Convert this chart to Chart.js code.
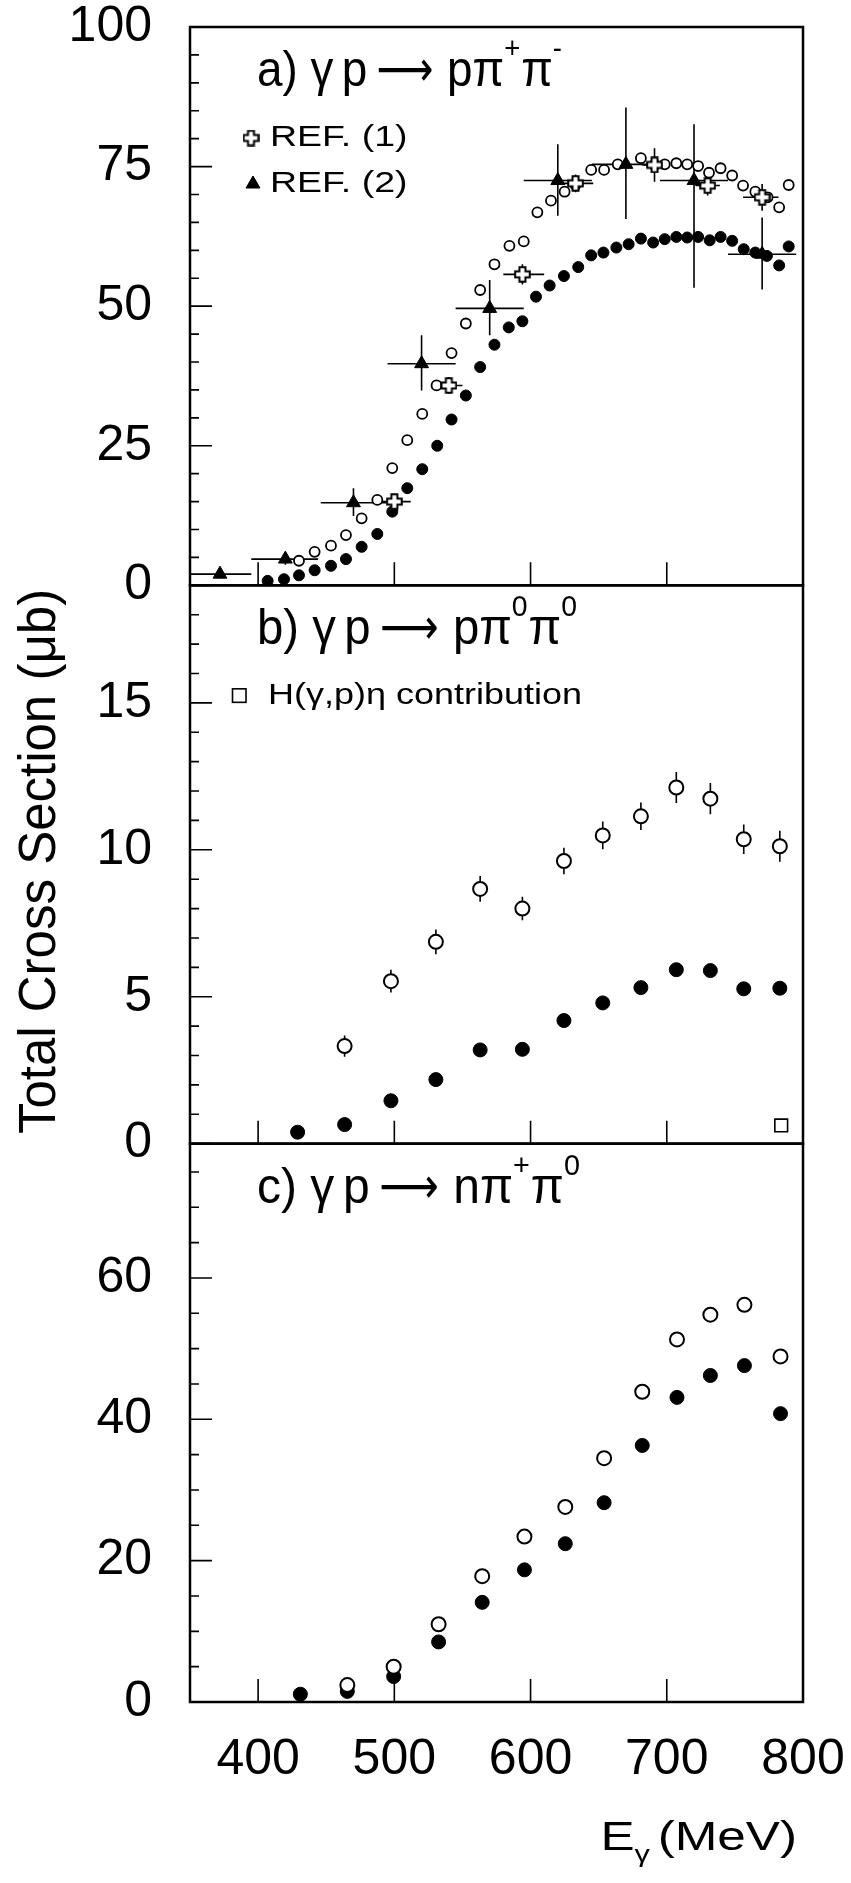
<!DOCTYPE html>
<html lang="en">
<head>
<meta charset="UTF-8">
<title>Total Cross Sections</title>
<script src="https://cdn.jsdelivr.net/npm/chart.js"></script>
<style>
  body { margin: 0; background: #fff; }
  canvas { display: block; }
</style>
</head>
<body>
<canvas id="chart" width="851" height="1883"></canvas>
<script>
// photon energy in MeV, cross section in microbarn

// a) gamma p -> p pi+ pi-
const aFilledE = [407, 419, 430, 441.5, 453.5, 464.5, 476, 487.5, 498.5, 509.5, 520.5, 531.5, 542, 552.5, 563, 573.5, 584, 594, 604, 614, 624.5, 635, 644.5, 653.5, 663, 672, 681, 690, 698.5, 707, 715, 723, 731.5, 739.5, 748, 756.5, 765, 773.5, 782.5, 789.5];
const aFilledSigma = [0.8, 1.1, 1.8, 2.7, 3.5, 4.7, 6.9, 9.2, 13.2, 17.4, 20.8, 25.0, 29.7, 34.0, 39.1, 43.1, 46.2, 47.3, 51.7, 53.7, 55.4, 57.0, 59.1, 59.6, 60.5, 61.1, 62.1, 61.4, 62.0, 62.4, 62.3, 62.4, 61.8, 62.4, 61.7, 60.2, 59.6, 59.0, 57.3, 60.7];
const aOpenE = [430, 441.5, 453.5, 464.5, 476, 487.5, 498.5, 509.5, 520.5, 531, 542, 552.5, 563, 573.5, 584.5, 595, 605, 615, 625, 633, 644.5, 654, 664, 681, 691, 698.5, 707, 715, 723, 731, 739.5, 748, 756, 765, 774, 782.5, 789.5];
const aOpenSigma = [4.4, 6.0, 7.1, 9.0, 12.0, 15.3, 21.0, 26.0, 30.7, 35.8, 41.6, 46.9, 52.9, 57.5, 60.8, 61.6, 66.8, 68.9, 70.5, 71.7, 74.4, 74.4, 75.4, 76.5, 75.3, 75.4, 75.6, 75.4, 75.1, 73.9, 74.7, 73.4, 71.6, 70.5, 69.5, 67.7, 71.7];

// REF. (1)
const ref1E = [500, 540, 594, 633, 691, 730, 770];
const ref1Sigma = [15.0, 35.8, 55.7, 72.0, 75.3, 71.6, 69.5];
const ref1ELo = [488, 529, 580, 622, 682, 721, 756];
const ref1EHi = [512, 550, 610, 646, 700, 739, 782];
const ref1SigmaLo = [14.2, 34.3, 53.9, 70.4, 72.3, 69.8, 67.1];
const ref1SigmaHi = [15.8, 37.3, 57.5, 73.6, 78.3, 73.4, 71.9];

// REF. (2)
const ref2E = [372, 420, 470, 520, 570, 620, 670, 720, 770];
const ref2Sigma = [2.0, 4.7, 14.8, 39.7, 49.6, 72.5, 75.4, 72.5, 59.3];
const ref2ELo = [350, 395, 446, 495, 545, 595, 645, 695, 745];
const ref2EHi = [395, 444, 494, 545, 595, 645, 695, 745, 795];
const ref2SigmaLo = [1.5, 3.7, 12.4, 34.9, 44.8, 66.2, 65.6, 53.3, 53.0];
const ref2SigmaHi = [2.5, 5.7, 17.4, 44.8, 54.7, 79.0, 85.6, 82.6, 65.9];

// b) gamma p -> p pi0 pi0
const bE = [429, 463.5, 497.5, 530.5, 563, 594, 624.5, 653, 681, 707, 732, 756.5, 783];
const bFilledSigma = [0.39, 0.65, 1.46, 2.18, 3.19, 3.21, 4.19, 4.79, 5.31, 5.92, 5.89, 5.27, 5.29];
const bOpenE = [463.5, 497.5, 530.5, 563, 594, 624.5, 653, 681, 707, 732, 756.5, 783];
const bOpenSigma = [3.32, 5.53, 6.87, 8.67, 8.0, 9.62, 10.49, 11.14, 12.12, 11.74, 10.36, 10.12];
const bOpenErr = [0.36, 0.39, 0.42, 0.44, 0.40, 0.45, 0.47, 0.47, 0.53, 0.53, 0.50, 0.53];
const etaE = [784];
const etaSigma = [0.62];

// c) gamma p -> n pi+ pi0
const cE = [431, 465.5, 499.5, 532.5, 564.5, 595.5, 625.5, 654, 682, 707.5, 732, 757, 783.5];
const cFilledSigma = [1.1, 1.5, 3.6, 8.5, 14.1, 18.7, 22.4, 28.2, 36.3, 43.1, 46.2, 47.6, 40.8];
const cOpenE = [465.5, 499.5, 532.5, 564.5, 595.5, 625.5, 654, 682, 707.5, 732, 757, 783.5];
const cOpenSigma = [2.4, 5.0, 11.0, 17.8, 23.4, 27.6, 34.5, 43.9, 51.3, 54.8, 56.2, 48.9];

// axes
const xTicks = [400, 500, 600, 700, 800];
const aTicks = [0, 25, 50, 75, 100];
const bTicks = [0, 5, 10, 15];
const cTicks = [0, 20, 40, 60];

const FONT = '"Liberation Sans", Arial, "DejaVu Sans", sans-serif';

function points(xs, ys) {
  return xs.map((x, i) => ({ x: x, y: ys[i] }));
}

// outlined "plus" marker used for REF. (1)
function outlinedPlus(size, arm) {
  const c = document.createElement('canvas');
  c.width = c.height = size;
  const g = c.getContext('2d');
  const m = size / 2, h = arm / 2, e = size / 2 - 1.2;
  const pts = [[m - h, m - e], [m + h, m - e], [m + h, m - h], [m + e, m - h], [m + e, m + h], [m + h, m + h],
               [m + h, m + e], [m - h, m + e], [m - h, m + h], [m - e, m + h], [m - e, m - h], [m - h, m - h]];
  g.beginPath();
  pts.forEach((p, i) => i ? g.lineTo(p[0], p[1]) : g.moveTo(p[0], p[1]));
  g.closePath();
  g.fillStyle = '#fff';
  g.fill();
  g.lineWidth = 2;
  g.strokeStyle = '#000';
  g.stroke();
  return c;
}
const plusImg = outlinedPlus(17, 6);

function reaction(label, product, sup1, sup2) {
  return [{ t: label + ' γ', gap: 9 }, { t: 'p', gap: 10 }, { t: '⟶', w: 62, gap: 15 },
          { t: product + 'π' }, { t: sup1, sup: true, gap: 1 }, { t: 'π' }, { t: sup2, sup: true }];
}

// titleWidth: horizontal extent of each reaction label in pixels
const panels = [
  { id: 'ya', weight: 3, min: 0, max: 100, ticks: aTicks, minor: 5, title: reaction('a)', 'p', '+', '-'), titleWidth: 305 },
  { id: 'yb', weight: 2, min: 0, max: 19, ticks: bTicks, minor: 1, title: reaction('b)', 'p', '0', '0'), titleWidth: 320 },
  { id: 'yc', weight: 1, min: 0, max: 79, ticks: cTicks, minor: 5, title: reaction('c)', 'n', '+', '0'), titleWidth: 323 }
];

function yScale(p) {
  return {
    type: 'linear',
    position: 'left',
    stack: 'panels',
    stackWeight: 1,
    weight: p.weight,
    min: p.min,
    max: p.max,
    afterBuildTicks: s => { s.ticks = p.ticks.map(v => ({ value: v })); },
    afterFit: s => { s.width = 190; s.paddingTop = 0; s.paddingBottom = 0; },
    grid: { display: false, drawTicks: false },
    border: { display: false },
    ticks: { autoSkip: false, padding: 38, color: '#000', font: { family: FONT, size: 50, lineHeight: 1 } }
  };
}

// text with super/subscripts, optionally stretched horizontally
function layoutParts(ctx, parts, size, draw) {
  let cx = 0;
  parts.forEach(part => {
    const fs = part.sup || part.sub ? Math.round(size * 0.6) : size;
    ctx.font = fs + 'px ' + FONT;
    const dy = part.sup ? -size * 0.56 : (part.sub ? size * 0.3 : 0);
    const m = ctx.measureText(part.t).width;
    const w = part.w || m;
    if (draw) {
      ctx.save();
      ctx.translate(cx, dy);
      ctx.scale(w / m, 1);
      ctx.fillText(part.t, 0, 0);
      ctx.restore();
    }
    cx += w + (part.gap || 0);
  });
  return cx;
}

function drawParts(ctx, x, y, parts, size, stretch) {
  ctx.save();
  ctx.translate(x, y);
  ctx.scale(stretch, 1);
  layoutParts(ctx, parts, size, true);
  ctx.restore();
}

function partsWidth(ctx, parts, size, stretch) {
  ctx.save();
  const w = layoutParts(ctx, parts, size, false) * stretch;
  ctx.restore();
  return w;
}

const panelPlugin = {
  id: 'panelPlugin',
  beforeDatasetsDraw(chart) {
    const ctx = chart.ctx;
    const xs = chart.scales.x;
    ctx.save();
    ctx.strokeStyle = '#000';
    ctx.lineWidth = 1.6;
    chart.data.datasets.forEach(ds => {
      const e = ds.errorBars;
      if (!e) return;
      const ys = chart.scales[ds.yAxisID];
      ctx.beginPath();
      ds.data.forEach((p, j) => {
        const px = xs.getPixelForValue(p.x);
        const py = ys.getPixelForValue(p.y);
        if (e.xLo) {
          ctx.moveTo(xs.getPixelForValue(e.xLo[j]), py);
          ctx.lineTo(xs.getPixelForValue(e.xHi[j]), py);
        }
        if (e.yLo) {
          ctx.moveTo(px, ys.getPixelForValue(e.yLo[j]));
          ctx.lineTo(px, ys.getPixelForValue(e.yHi[j]));
        }
      });
      ctx.stroke();
    });
    ctx.restore();
  },
  afterDatasetsDraw(chart) {
    const ctx = chart.ctx;
    const area = chart.chartArea;
    const xs = chart.scales.x;
    ctx.save();
    ctx.strokeStyle = '#000';
    panels.forEach(p => {
      const ys = chart.scales[p.id];
      ctx.lineWidth = 1.6;
      ctx.beginPath();
      for (let v = p.min; v < p.max; v += p.minor) {
        const y = ys.getPixelForValue(v);
        const len = p.ticks.includes(v) ? 22 : 9;
        ctx.moveTo(area.left, y);
        ctx.lineTo(area.left + len, y);
      }
      xTicks.forEach(v => {
        if (v >= xs.max) return;
        const x = xs.getPixelForValue(v);
        ctx.moveTo(x, ys.bottom);
        ctx.lineTo(x, ys.bottom - 23);
      });
      ctx.stroke();
      ctx.lineWidth = 2.5;
      ctx.strokeRect(area.left, ys.top, area.right - area.left, ys.bottom - ys.top);
    });
    ctx.restore();
  },
  afterDraw(chart) {
    const ctx = chart.ctx;
    const xs = chart.scales.x;
    ctx.save();
    ctx.fillStyle = '#000';
    ctx.textBaseline = 'alphabetic';
    ctx.textAlign = 'left';

    // panel titles, squeezed to the measured width
    panels.forEach(p => {
      const ys = chart.scales[p.id];
      const natural = partsWidth(ctx, p.title, 50, 1);
      drawParts(ctx, 257, ys.top + 59, p.title, 50, p.titleWidth / natural);
    });

    // legend of panel a
    const ya = chart.scales.ya;
    ctx.textBaseline = 'middle';
    ctx.drawImage(plusImg, 251 - plusImg.width / 2, ya.top + 111 - plusImg.height / 2);
    Chart.helpers.drawPoint(ctx, { pointStyle: 'triangle', radius: 8, borderWidth: 1 }, 253, ya.top + 157);
    ctx.fill();
    drawParts(ctx, 270, ya.top + 111, [{ t: 'REF. (1)' }], 30, 1.25);
    drawParts(ctx, 270, ya.top + 157, [{ t: 'REF. (2)' }], 30, 1.25);

    // legend of panel b
    const yb = chart.scales.yb;
    ctx.lineWidth = 1.6;
    ctx.strokeRect(232.5, yb.top + 103.5, 13.5, 13.5);
    drawParts(ctx, 268, yb.top + 110, [{ t: 'H(γ,p)η contribution' }], 30, 1.2);

    // axis titles
    ctx.textBaseline = 'alphabetic';
    const xt = [{ t: 'E' }, { t: 'γ', sub: true, gap: 6 }, { t: '(MeV)' }];
    const w = partsWidth(ctx, xt, 40, 1.28);
    drawParts(ctx, xs.right - 6 - w, 1850, xt, 40, 1.28);

    ctx.save();
    ctx.translate(55, (chart.scales.ya.bottom + chart.scales.yb.bottom) / 2 - 3);
    ctx.rotate(-Math.PI / 2);
    ctx.textAlign = 'center';
    ctx.font = '51px ' + FONT;
    ctx.fillText('Total Cross Section (μb)', 0, 0);
    ctx.restore();

    ctx.restore();
  }
};

const filled = { pointStyle: 'circle', backgroundColor: '#000', borderColor: '#000', borderWidth: 1 };
const open = { pointStyle: 'circle', backgroundColor: '#fff', borderColor: '#000', borderWidth: 2 };

const chart = new Chart(document.getElementById('chart'), {
  type: 'scatter',
  data: {
    datasets: [
      { label: 'REF. (2)', yAxisID: 'ya', data: points(ref2E, ref2Sigma), pointStyle: 'triangle', pointRadius: 8,
        backgroundColor: '#000', borderColor: '#000', borderWidth: 1,
        errorBars: { xLo: ref2ELo, xHi: ref2EHi, yLo: ref2SigmaLo, yHi: ref2SigmaHi } },
      { label: 'REF. (1)', yAxisID: 'ya', data: points(ref1E, ref1Sigma), pointStyle: plusImg, pointRadius: 8,
        errorBars: { xLo: ref1ELo, xHi: ref1EHi, yLo: ref1SigmaLo, yHi: ref1SigmaHi } },
      Object.assign({ label: 'a open', yAxisID: 'ya', data: points(aOpenE, aOpenSigma), pointRadius: 5 }, open, { borderWidth: 1.8 }),
      Object.assign({ label: 'a filled', yAxisID: 'ya', data: points(aFilledE, aFilledSigma), pointRadius: 5.5 }, filled),
      { label: 'H(γ,p)η', yAxisID: 'yb', data: points(etaE, etaSigma), pointStyle: 'rect', pointRadius: 9,
        backgroundColor: '#fff', borderColor: '#000', borderWidth: 1.6 },
      Object.assign({ label: 'b open', yAxisID: 'yb', data: points(bOpenE, bOpenSigma), pointRadius: 7,
        errorBars: { yLo: bOpenSigma.map((v, i) => v - bOpenErr[i]), yHi: bOpenSigma.map((v, i) => v + bOpenErr[i]) } }, open),
      Object.assign({ label: 'b filled', yAxisID: 'yb', data: points(bE, bFilledSigma), pointRadius: 7 }, filled),
      Object.assign({ label: 'c open', yAxisID: 'yc', data: points(cOpenE, cOpenSigma), pointRadius: 7 }, open),
      Object.assign({ label: 'c filled', yAxisID: 'yc', data: points(cE, cFilledSigma), pointRadius: 7 }, filled)
    ]
  },
  options: {
    responsive: false,
    devicePixelRatio: 1,
    animation: false,
    events: [],
    layout: { padding: { top: 27, right: 48, bottom: 0, left: 0 } },
    plugins: { legend: { display: false }, tooltip: { enabled: false } },
    scales: {
      x: {
        type: 'linear',
        min: 350,
        max: 800,
        afterBuildTicks: s => { s.ticks = xTicks.map(v => ({ value: v })); },
        afterFit: s => { s.height = 181; s.paddingLeft = 0; s.paddingRight = 0; },
        grid: { display: false, drawTicks: false },
        border: { display: false },
        ticks: { autoSkip: false, maxRotation: 0, padding: 33, color: '#000', font: { family: FONT, size: 50, lineHeight: 1 } }
      },
      ya: yScale(panels[0]),
      yb: yScale(panels[1]),
      yc: yScale(panels[2])
    }
  },
  plugins: [panelPlugin]
});
</script>
</body>
</html>
